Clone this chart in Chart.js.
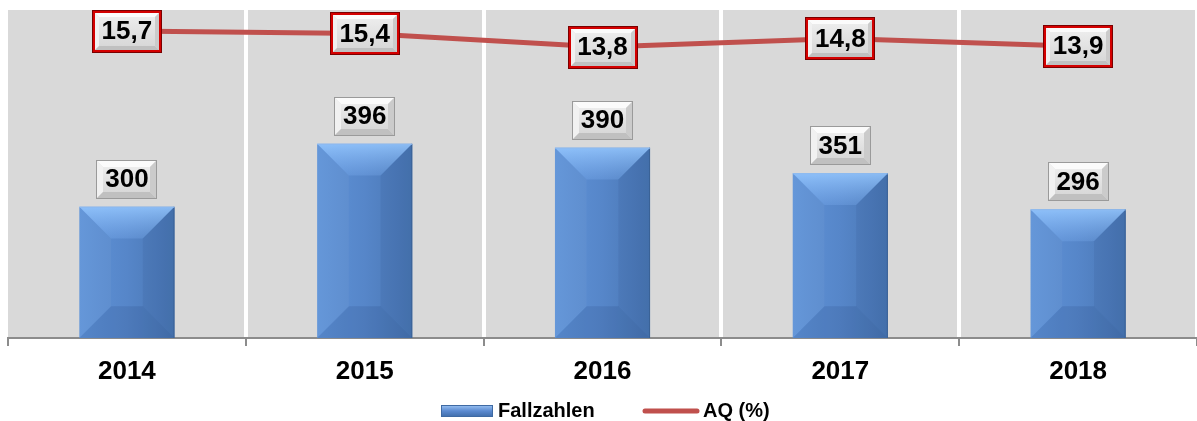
<!DOCTYPE html>
<html lang="de">
<head>
<meta charset="utf-8">
<title>Fallzahlen und AQ 2014–2018</title>
<script src="https://cdn.jsdelivr.net/npm/chart.js@4.4.1/dist/chart.umd.min.js"></script>
<style>
  html, body { margin: 0; padding: 0; background: #ffffff; }
  #wrap { width: 1197px; height: 421px; position: relative; }
</style>
</head>
<body>
<div id="wrap"><canvas id="chart" width="1197" height="421"></canvas></div>
<script>
// Jahre (Kategorien)
const years = ['2014', '2015', '2016', '2017', '2018'];
// Fallzahlen je Jahr
const cases = [300, 396, 390, 351, 296];
// AQ in Prozent je Jahr
const aqPercent = [15.7, 15.4, 13.8, 14.8, 13.9];
// Serienbezeichnungen
const seriesNames = ['Fallzahlen', 'AQ (%)'];

const FONT = '"Liberation Sans", Arial, Helvetica, sans-serif';
const fmtAQ = v => v.toFixed(1).replace('.', ',');

function poly(ctx, pts, fill) {
  ctx.beginPath();
  ctx.moveTo(pts[0][0], pts[0][1]);
  for (let i = 1; i < pts.length; i++) ctx.lineTo(pts[i][0], pts[i][1]);
  ctx.closePath();
  ctx.fillStyle = fill;
  ctx.fill();
}

// light grey beveled label box
function drawLabelBox(ctx, cx, cy, w, h, red) {
  const x = Math.round(cx - w / 2), y = Math.round(cy - h / 2);
  const d = 7;
  ctx.save();
  ctx.fillStyle = '#e2e2e2';
  ctx.fillRect(x, y, w, h);
  poly(ctx, [[x, y], [x + w, y], [x + w - d, y + d], [x + d, y + d]], '#fbfbfb');
  poly(ctx, [[x, y], [x + d, y + d], [x + d, y + h - d], [x, y + h]], '#f1f1f1');
  poly(ctx, [[x + w, y], [x + w, y + h], [x + w - d, y + h - d], [x + w - d, y + d]], '#cbcbcb');
  poly(ctx, [[x, y + h], [x + d, y + h - d], [x + w - d, y + h - d], [x + w, y + h]], '#c0c0c0');
  const g = ctx.createLinearGradient(0, y + d, 0, y + h - d);
  g.addColorStop(0, '#ececec');
  g.addColorStop(1, '#d8d8d8');
  ctx.fillStyle = g;
  ctx.fillRect(x + d, y + d, w - 2 * d, h - 2 * d);
  if (red) {
    ctx.lineWidth = 3;
    ctx.strokeStyle = '#d40000';
    ctx.strokeRect(x + 1.5, y + 1.5, w - 3, h - 3);
    ctx.lineWidth = 1;
    ctx.strokeStyle = '#7a0000';
    ctx.strokeRect(x + 0.5, y + 0.5, w - 1, h - 1);
  } else {
    ctx.lineWidth = 1;
    ctx.strokeStyle = '#9a9a9a';
    ctx.strokeRect(x + 0.5, y + 0.5, w - 1, h - 1);
  }
  ctx.restore();
}

// softly bevelled blue bar face
function drawBevelBar(ctx, left, top, right, bottom) {
  const w = right - left, h = bottom - top;
  const d = Math.min(w / 3, h / 2, 32);
  ctx.save();
  const base = ctx.createLinearGradient(left, 0, right, 0);
  base.addColorStop(0, '#5f93d8');
  base.addColorStop(0.5, '#5686c9');
  base.addColorStop(1, '#4875b1');
  ctx.fillStyle = base;
  ctx.fillRect(left, top, w, h);
  const topG = ctx.createLinearGradient(0, top, 0, top + d);
  topG.addColorStop(0, 'rgba(150,200,255,0.85)');
  topG.addColorStop(1, 'rgba(130,180,245,0.25)');
  poly(ctx, [[left, top], [right, top], [right - d, top + d], [left + d, top + d]], topG);
  poly(ctx, [[left, top], [left + d, top + d], [left + d, bottom - d], [left, bottom]], 'rgba(255,255,255,0.04)');
  poly(ctx, [[right, top], [right, bottom], [right - d, bottom - d], [right - d, top + d]], 'rgba(0,20,60,0.06)');
  poly(ctx, [[left, bottom], [left + d, bottom - d], [right - d, bottom - d], [right, bottom]], 'rgba(0,20,70,0.10)');
  ctx.lineWidth = 1;
  ctx.strokeStyle = '#3a6296';
  ctx.beginPath();
  ctx.moveTo(right - 0.5, top);
  ctx.lineTo(right - 0.5, bottom);
  ctx.stroke();
  ctx.strokeStyle = '#8dbaf0';
  ctx.beginPath();
  ctx.moveTo(left, top + 0.5);
  ctx.lineTo(right, top + 0.5);
  ctx.stroke();
  ctx.restore();
}

const plotBackground = {
  id: 'plotBackground',
  beforeDraw(chart) {
    const { ctx, chartArea: a } = chart;
    ctx.save();
    ctx.fillStyle = '#d9d9d9';
    ctx.fillRect(a.left, a.top, a.right - a.left, a.bottom - a.top);
    ctx.restore();
  }
};

const bevelBars = {
  id: 'bevelBars',
  afterDatasetDraw(chart, args) {
    const ds = chart.data.datasets[args.index];
    if (ds.type !== 'bar') return;
    const ctx = chart.ctx;
    args.meta.data.forEach(el => {
      const p = el.getProps(['x', 'y', 'base', 'width'], true);
      drawBevelBar(ctx, p.x - p.width / 2, p.y, p.x + p.width / 2, p.base);
    });
  }
};

const valueBoxes = {
  id: 'valueBoxes',
  afterDatasetsDraw(chart) {
    const ctx = chart.ctx;
    chart.data.datasets.forEach((ds, di) => {
      const meta = chart.getDatasetMeta(di);
      meta.data.forEach((el, i) => {
        const v = ds.data[i];
        let cx = el.x, cy, w, h, txt, red;
        if (ds.type === 'bar') {
          txt = String(v);
          w = 61; h = 39;
          cy = el.y - 8 - h / 2;
          red = false;
        } else {
          txt = fmtAQ(v);
          w = 70; h = 43;
          cy = el.y;
          red = true;
        }
        drawLabelBox(ctx, cx, cy, w, h, red);
        ctx.save();
        ctx.font = 'bold 26px ' + FONT;
        ctx.fillStyle = '#000000';
        ctx.textAlign = 'center';
        ctx.textBaseline = 'middle';
        ctx.fillText(txt, cx, cy + 1);
        ctx.restore();
      });
    });
  }
};

const bottomLegend = {
  id: 'bottomLegend',
  afterDraw(chart) {
    const ctx = chart.ctx;
    const cy = 411;
    ctx.save();
    ctx.font = 'bold 20px ' + FONT;
    ctx.textBaseline = 'middle';
    ctx.textAlign = 'left';
    // bar swatch
    const sx = 441, sw = 52, sy = 405, sh = 12;
    const g = ctx.createLinearGradient(0, sy, 0, sy + sh);
    g.addColorStop(0, '#9cc4f4');
    g.addColorStop(0.5, '#5b8ad0');
    g.addColorStop(1, '#3f6ca8');
    ctx.fillStyle = g;
    ctx.fillRect(sx, sy, sw, sh);
    ctx.strokeStyle = '#3f6aa3';
    ctx.lineWidth = 1;
    ctx.strokeRect(sx + 0.5, sy + 0.5, sw - 1, sh - 1);
    ctx.fillStyle = '#000000';
    ctx.fillText(chart.data.datasets[1].label, 498, cy);
    // line swatch
    ctx.strokeStyle = '#c0504d';
    ctx.lineWidth = 5;
    ctx.lineCap = 'round';
    ctx.beginPath();
    ctx.moveTo(645, cy);
    ctx.lineTo(697, cy);
    ctx.stroke();
    ctx.fillText(chart.data.datasets[0].label, 703, cy);
    ctx.restore();
  }
};

new Chart(document.getElementById('chart'), {
  type: 'bar',
  data: {
    labels: years,
    datasets: [
      {
        type: 'line',
        label: seriesNames[1],
        data: aqPercent,
        yAxisID: 'yAQ',
        borderColor: '#c0504d',
        borderWidth: 5,
        pointRadius: 0,
        tension: 0,
        order: 0
      },
      {
        type: 'bar',
        label: seriesNames[0],
        data: cases,
        yAxisID: 'yCases',
        base: 100,
        backgroundColor: 'rgba(0,0,0,0)',
        borderWidth: 0,
        barPercentage: 0.8,
        categoryPercentage: 0.5,
        order: 1
      }
    ]
  },
  options: {
    responsive: false,
    animation: false,
    devicePixelRatio: 1,
    layout: { padding: { left: 8, top: 10, right: 0, bottom: 0 } },
    plugins: {
      legend: { display: false },
      tooltip: { enabled: false }
    },
    scales: {
      x: {
        offset: true,
        grid: {
          offset: true,
          drawOnChartArea: true,
          color: ctx => (ctx.index === 0 ? 'rgba(0,0,0,0)' : '#ffffff'),
          lineWidth: 4,
          drawTicks: true,
          tickLength: 8,
          tickColor: '#8c8c8c',
          tickWidth: 2
        },
        border: { display: true, color: '#8c8c8c', width: 2 },
        ticks: {
          color: '#000000',
          padding: 10,
          font: { family: FONT, size: 26, weight: 'bold' }
        },
        afterFit(scale) { scale.height = 83; }
      },
      yCases: { display: false, min: 100, max: 600 },
      yAQ: { display: false, min: -20.8, max: 18.2 }
    }
  },
  plugins: [plotBackground, bevelBars, valueBoxes, bottomLegend]
});
</script>
</body>
</html>
